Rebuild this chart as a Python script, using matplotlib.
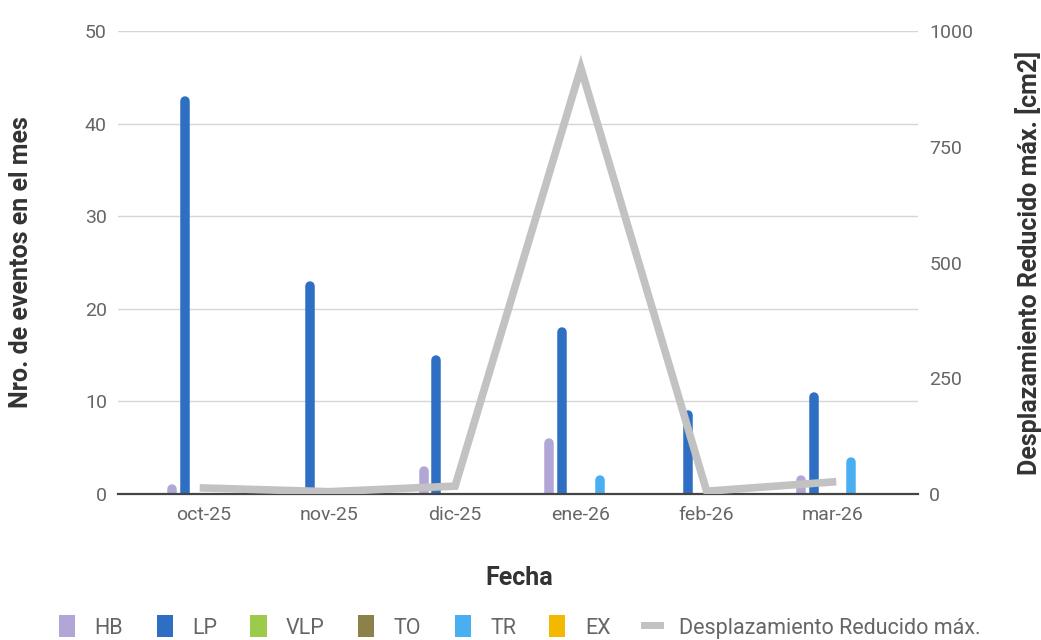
import matplotlib
matplotlib.use("Agg")
import matplotlib.pyplot as plt
from matplotlib.lines import Line2D
from matplotlib.patches import Patch
import numpy as np

plt.rcParams['font.family'] = ['Roboto', 'DejaVu Sans']

categories = ["oct-25", "nov-25", "dic-25", "ene-26", "feb-26", "mar-26"]
series_names = ["HB", "LP", "VLP", "TO", "TR", "EX"]
HB = [1, 0.7, 3, 6, 0, 2]
LP = [43, 23, 15, 18, 9, 11]
VLP = [0, 0, 0, 0, 0, 0]
TO = [0, 0, 0, 0, 0, 0]
TR = [0, 0, 0, 2, 0, 4]
EX = [0, 0, 0, 0, 0, 0]
desplazamiento = [13, 5, 17, 920, 6, 26]
colors = ["#b1a6d6", "#2f6fc3", "#9ccb4b", "#8c8249", "#4aaff0", "#f5b800"]
line_color = "#c2c2c2"

W, H, DPI = 1041, 640, 100
fig = plt.figure(figsize=(W / DPI, H / DPI), dpi=DPI)
ax_h_px = 463
ax = fig.add_axes([118 / W, 1 - 494 / H, 800 / W, ax_h_px / H])
ax2 = ax.twinx()

ymax = 50
x = np.arange(len(categories))
data = [HB, LP, VLP, TO, TR, EX]
step = 0.1
bar_px = 9.5
lw_pt = bar_px * 72 / DPI
r_data = (bar_px / 2) / (ax_h_px / ymax)
for i, (vals, c) in enumerate(zip(data, colors)):
    off = (i - 2.5) * step
    for xi, v in zip(x, vals):
        if v > 0:
            top = max(v - r_data, 0)
            ax.plot([xi + off, xi + off], [0, top], color=c, lw=lw_pt,
                    solid_capstyle='round', zorder=3)

ax2.plot(x, desplazamiento, color=line_color, lw=5.5, zorder=4, solid_joinstyle='miter')

ax.set_xlim(-0.68, 5.68)
ax.set_ylim(0, ymax)
ax2.set_ylim(0, 1000)
ax.set_yticks([0, 10, 20, 30, 40, 50])
ax2.set_yticks([0, 250, 500, 750, 1000])
ax.set_xticks(x)
ax.set_xticklabels(categories)
ax.grid(axis='y', color='#d6d6d6', lw=1, zorder=0)
ax.set_axisbelow(True)
for a in (ax, ax2):
    for s in ['left', 'right', 'top', 'bottom']:
        a.spines[s].set_visible(False)
ax.axhline(0, color='#444444', lw=1.6, zorder=5, clip_on=False)
ax.tick_params(axis='y', length=0, labelsize=14, colors='#666666', pad=8)
ax.tick_params(axis='x', length=0, labelsize=14, colors='#666666', pad=9)
ax2.tick_params(axis='y', length=0, labelsize=14, colors='#666666', pad=8)

lab_kw = dict(fontsize=18, fontweight='bold', color='#333333')
ax.set_ylabel("Nro. de eventos en el mes", **lab_kw)
ax2.set_ylabel("Desplazamiento Reducido máx. [cm2]", **lab_kw)
ax.yaxis.label.set_va('center')
ax2.yaxis.label.set_va('center')
ax.yaxis.set_label_coords(-(118 - 21) / 800, 0.5)
ax2.yaxis.set_label_coords(1 + (1029 - 918) / 800, 0.5)
ax.set_xlabel("Fecha", **lab_kw)
ax.xaxis.set_label_coords(0.5 - (118 + 400 - 519) / 800, -(578 - 494) / ax_h_px)
ax.xaxis.label.set_va('center')

handles = [Patch(facecolor=c, edgecolor='none') for c in colors]
handles.append(Line2D([0], [0], color=line_color, lw=5))
labels = series_names + ["Desplazamiento Reducido máx."]
leg = fig.legend(handles, labels, loc='center', bbox_to_anchor=(520 / W, 1 - 627 / H), ncol=7,
                 frameon=False, fontsize=15.5, handlelength=0.75, handleheight=1.2,
                 columnspacing=1.55, handletextpad=0.9)
for t in leg.get_texts():
    t.set_color('#666666')

fig.savefig("out.png", dpi=DPI)
